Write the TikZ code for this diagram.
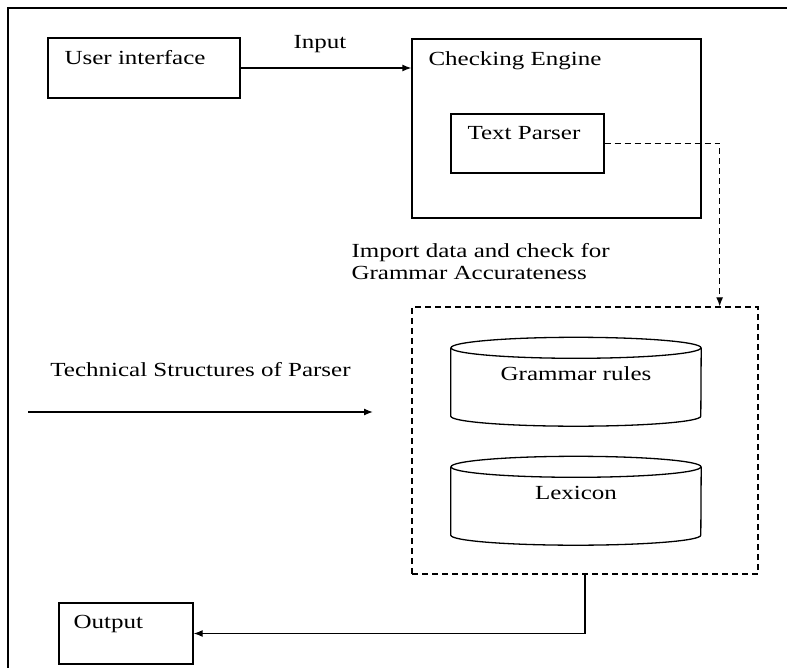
\documentclass[tikz,border=0pt]{standalone}
\usepackage{fontspec}
\setmainfont{Liberation Serif}[FakeStretch=1.25]
\usetikzlibrary{shapes.geometric, arrows.meta, positioning, calc}

\begin{document}
\begin{tikzpicture}[
x=1pt, y=-1pt,
font=\fontsize{20}{22}\selectfont,
box/.style={rectangle, draw, line width=1.3pt, inner sep=0pt},
ttl/.style={anchor=north west, inner sep=0pt, xshift=17pt, yshift=-13pt},
drum/.style={rectangle, inner sep=0pt, minimum width=250pt, minimum height=68pt},
txt/.style={inner sep=0pt, align=left},
arrow/.style={-{Latex[length=9pt, width=7pt]}, line width=1.3pt},
dashline/.style={dash pattern=on 6pt off 4pt, line width=1.3pt}
]
\useasboundingbox (0,0) rectangle (787,668);
\draw[line width=1.5pt] (8,668) -- (8,8) -- (787,8);

\node[box, minimum width=192pt, minimum height=60pt, label={[ttl]north west:User interface}] (ui) at (144,68) {};
\node[box, minimum width=289pt, minimum height=179pt, label={[ttl]north west:Checking Engine}] (engine) at (556.5,128.5) {};
\node[box, minimum width=153pt, minimum height=59pt, label={[ttl]north west:Text Parser}] (parser) at (527.5,143.5) {};

% data store with the two drums
\node[box, dashline, minimum width=346pt, minimum height=267pt] (store) at (585,440.5) {};
\node[drum, label={[yshift=8pt]center:Grammar rules}] (rules) at (576,382) {};
\node[drum, label={[yshift=8pt]center:Lexicon}] (lexicon) at (576,501) {};
\foreach \d in {rules, lexicon} {
  \draw[line width=1.3pt] (\d.north) ellipse [x radius=125pt, y radius=10.5pt];
  \draw[line width=1.3pt] (\d.north west) -- (\d.south west)
    arc [start angle=180, end angle=360, x radius=125pt, y radius=10pt] -- (\d.north east);
}

\node[box, minimum width=134pt, minimum height=61pt, label={[ttl, xshift=-2pt]north west:Output}] (out) at (126,633.5) {};

\draw[arrow] (ui.east) -- node[txt, midway, above=15pt, xshift=-6pt] (inlbl) {Input} (ui.east -| engine.west);
\draw[arrow, dashline] (parser.east) -| ([xshift=-39pt]store.north east);
\node[txt, anchor=south west] (note) at ([shift={(-60pt,26pt)}]store.north west) {Import data and check for\\Grammar Accurateness};
\draw[arrow] (store.south) |- (out.east);

\coordinate (tsfrom) at (28,412);
\coordinate (tsto) at (373,412);
\draw[arrow] (tsfrom) -- node[txt, midway, above=35pt] (tslbl) {Technical Structures of Parser} (tsto);
\end{tikzpicture}
\end{document}
